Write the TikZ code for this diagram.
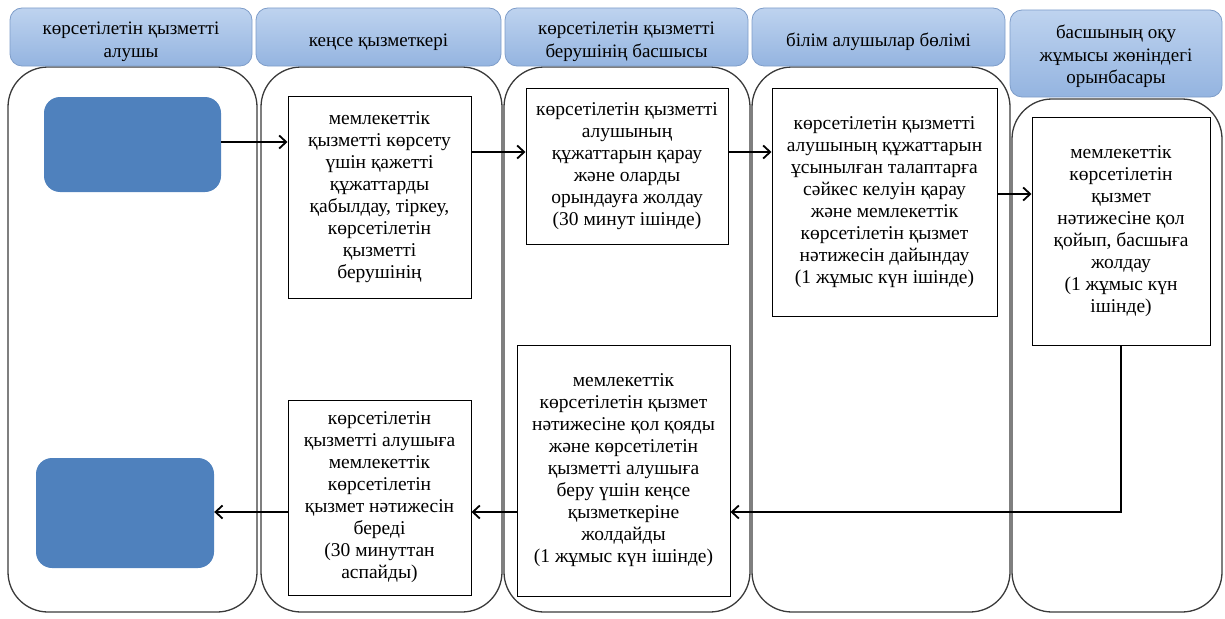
\documentclass[tikz,border=0pt]{standalone}
\usepackage{fontspec}
\setmainfont{Liberation Serif}
\usetikzlibrary{arrows.meta,calc,positioning}
\definecolor{headtop}{HTML}{BED3EF}
\definecolor{headbot}{HTML}{94B4E0}
\definecolor{headline}{HTML}{7E9DC9}
\definecolor{actorblue}{HTML}{4F81BD}
\definecolor{laneline}{HTML}{3A3A3A}
\tikzset{
	lanehead/.style={draw=headline, line width=0.8pt, rounded corners=12pt, top color=headtop, bottom color=headbot, inner sep=0pt},
	headtext/.style={align=center, inner sep=0pt, yshift=-5pt, font=\fontsize{19}{22.5}\selectfont},
	lanebox/.style={draw=laneline, line width=1.3pt, rounded corners=40pt},
	actor/.style={fill=actorblue, draw=none, rounded corners=16pt, inner sep=0pt},
	stepbox/.style={draw=black, line width=1pt, fill=white, align=center, inner sep=0pt, font=\fontsize{19.5}{22}\selectfont},
	flow/.style={line width=1.8pt, -{Straight Barb[length=7pt,width=13pt]}}
}
\begin{document}
\begin{tikzpicture}[x=1pt,y=-1pt]
                        \useasboundingbox (0,0) rectangle (1225,618);
                        
                        % Drawing lanes
                        \draw [lanebox] (8,67) rectangle (257,612);%
                        \draw [lanebox] (261,67) rectangle (502,612);%
                        \draw [lanebox] (504,67) rectangle (750,612);%
                        \draw [lanebox] (752,67) rectangle (1010,612);%
                        \draw [lanebox] (1012,99) rectangle (1222,612);%
                        
                        % Marking lane heads
                        \node [lanehead, minimum width=242, minimum height=58, label={[headtext]center:көрсетілетін қызметті\\алушы}] (hAlushy) at (131,37) {};%
                        \node [lanehead, minimum width=245, minimum height=58, label={[headtext]center:кеңсе қызметкері}] (hKense) at (378.5,37) {};%
                        \node [lanehead, minimum width=243, minimum height=58, label={[headtext]center:көрсетілетін қызметті\\берушінің басшысы}] (hBasshy) at (626.5,37) {};%
                        \node [lanehead, minimum width=253, minimum height=58, label={[headtext]center:білім алушылар бөлімі}] (hBolim) at (878.5,37) {};%
                        \node [lanehead, minimum width=212, minimum height=87, label={[headtext, yshift=2pt]center:басшының оқу\\жұмысы жөніндегі\\орынбасары}] (hOrynb) at (1116,53.5) {};%
                        
                        % Marking actor boxes
                        \node [actor, minimum width=177, minimum height=95] (alushyA) at (132.5,144.5) {};%
                        \node [actor, minimum width=178, minimum height=110] (alushyB) at (125,513) {};%
                        
                        % Marking step boxes
                        \node [stepbox, minimum width=183, minimum height=202] (kenseA) at (379.5,197) {мемлекеттік\\қызметті көрсету\\үшін қажетті\\құжаттарды\\қабылдау, тіркеу,\\көрсетілетін\\қызметті\\берушінің};%
                        \node [stepbox, minimum width=202, minimum height=156] (basshyA) at (627,166) {көрсетілетін қызметті\\алушының\\құжаттарын қарау\\және оларды\\орындауға жолдау\\(30 минут ішінде)};%
                        \node [stepbox, minimum width=225, minimum height=228] (bolim) at (884.5,202) {көрсетілетін қызметті\\алушының құжаттарын\\ұсынылған талаптарға\\сәйкес келуін қарау\\және мемлекеттік\\көрсетілетін қызмет\\нәтижесін дайындау\\(1 жұмыс күн ішінде)};%
                        \node [stepbox, minimum width=178, minimum height=228] (orynb) at (1121,231) {мемлекеттік\\көрсетілетін\\қызмет\\нәтижесіне қол\\қойып, басшыға\\жолдау\\(1 жұмыс күн\\ішінде)};%
                        \node [stepbox, minimum width=213, minimum height=251] (basshyB) at (623.5,470.5) {мемлекеттік\\көрсетілетін қызмет\\нәтижесіне қол қояды\\және көрсетілетін\\қызметті алушыға\\беру үшін кеңсе\\қызметкеріне\\жолдайды\\(1 жұмыс күн ішінде)};%
                        \node [stepbox, minimum width=183, minimum height=195] (kenseB) at (379.5,497.5) {көрсетілетін\\қызметті алушыға\\мемлекеттік\\көрсетілетін\\қызмет нәтижесін\\береді\\(30 минуттан\\аспайды)};%
                        
                        % Rows of the arrows
                        \coordinate (rowA) at (0,152);%
                        \coordinate (rowB) at (0,194);%
                        \coordinate (rowC) at (0,512);%
                        
                        % Drawing arrows
                        \draw [flow] (alushyA.east |- 0,142) -- (kenseA.west |- 0,142);%
                        \draw [flow] (kenseA.east |- rowA) -- (basshyA.west |- rowA);%
                        \draw [flow] (basshyA.east |- rowA) -- (bolim.west |- rowA);%
                        \draw [flow] (bolim.east |- rowB) -- (orynb.west |- rowB);%
                        \draw [flow] (orynb.south) |- (basshyB.east |- rowC);%
                        \draw [flow] (basshyB.west |- rowC) -- (kenseB.east |- rowC);%
                        \draw [flow] (kenseB.west |- rowC) -- (alushyB.east |- rowC);%
\end{tikzpicture}
\end{document}
